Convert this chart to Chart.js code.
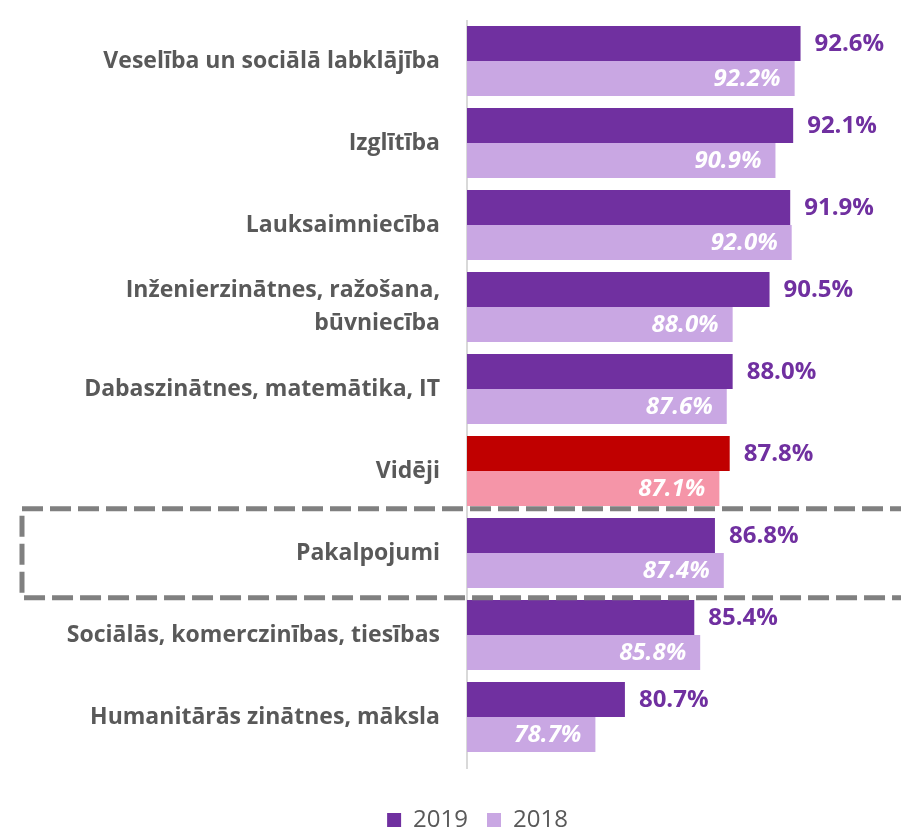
<!DOCTYPE html>
<html lang="lv">
<head>
    <meta charset="UTF-8">
    <title>Nodarbinātība pēc izglītības jomas</title>
    <script src="https://cdn.jsdelivr.net/npm/chart.js"></script>
    <style>
        html, body { margin: 0; padding: 0; background: #fff; overflow: hidden; height: 830px; }
        canvas { display: block; }
    </style>
</head>
<body>

<canvas id="jomasChart" width="901" height="842"></canvas>

<script>
    // dati
    const categories = [
        'Veselība un sociālā labklājība',
        'Izglītība',
        'Lauksaimniecība',
        ['Inženierzinātnes, ražošana,', 'būvniecība'],
        'Dabaszinātnes, matemātika, IT',
        'Vidēji',
        'Pakalpojumi',
        'Sociālās, komerczinības, tiesības',
        'Humanitārās zinātnes, māksla'
    ];
    const values2019 = [92.6, 92.1, 91.9, 90.5, 88.0, 87.8, 86.8, 85.4, 80.7];
    const values2018 = [92.2, 90.9, 92.0, 88.0, 87.6, 87.1, 87.4, 85.8, 78.7];
    const seriesNames = ['2019', '2018'];

    const avgIndex = categories.indexOf('Vidēji');
    const boxIndex = categories.indexOf('Pakalpojumi');

    const FONT = '"Open Sans", Lato, sans-serif';

    // vērtību uzraksti (bez datalabels spraudņa)
    const valueLabels = {
        id: 'valueLabels',
        afterDatasetsDraw(chart) {
            const c = chart.ctx;
            c.save();
            c.textBaseline = 'middle';
            chart.data.datasets.forEach((ds, di) => {
                const meta = chart.getDatasetMeta(di);
                meta.data.forEach((bar, i) => {
                    const txt = ds.data[i].toFixed(1) + '%';
                    if (di === 0) {
                        c.font = 'bold 24px ' + FONT;
                        c.fillStyle = '#7030A0';
                        c.textAlign = 'left';
                        c.fillText(txt, bar.x + 14, bar.y + 1);
                    } else {
                        c.font = 'italic bold 24px ' + FONT;
                        c.fillStyle = '#FFFFFF';
                        c.textAlign = 'right';
                        c.fillText(txt, bar.x - 14, bar.y + 1);
                    }
                });
            });
            c.restore();
        }
    };

    // ass un pārtrauktais rāmis ap "Pakalpojumi"
    const extras = {
        id: 'extras',
        beforeDatasetsDraw(chart) {
            const c = chart.ctx;
            const a = chart.chartArea;
            c.save();
            c.strokeStyle = '#D9D9D9';
            c.lineWidth = 2;
            c.beginPath();
            c.moveTo(a.left, a.top);
            c.lineTo(a.left, a.bottom + 11);
            c.stroke();
            c.restore();
        },
        afterDatasetsDraw(chart) {
            const c = chart.ctx;
            const y = chart.scales.y;
            const band = y.getPixelForValue(1) - y.getPixelForValue(0);
            const mid = y.getPixelForValue(boxIndex);
            c.save();
            c.strokeStyle = '#808080';
            c.lineWidth = 5;
            c.setLineDash([21, 7]);
            c.beginPath();
            c.moveTo(chart.width + 10, mid - band * 0.54);
            c.lineTo(22, mid - band * 0.54);
            c.lineTo(22, mid + band * 0.545);
            c.lineTo(chart.width + 10, mid + band * 0.545);
            c.stroke();
            c.restore();
        }
    };

    new Chart(document.getElementById('jomasChart'), {
        type: 'bar',
        data: {
            labels: categories,
            datasets: [{
                label: seriesNames[0],
                data: values2019,
                backgroundColor: (ctx) => ctx.dataIndex === avgIndex ? '#C00000' : '#7030A0'
            }, {
                label: seriesNames[1],
                data: values2018,
                backgroundColor: (ctx) => ctx.dataIndex === avgIndex ? '#F595A8' : '#C9A7E3'
            }]
        },
        options: {
            indexAxis: 'y',
            responsive: false,
            animation: false,
            barPercentage: 1,
            categoryPercentage: 0.855,
            layout: { padding: { left: 60, right: 6, top: 20, bottom: 0 } },
            scales: {
                x: {
                    min: 70,
                    max: 99,
                    ticks: { display: false },
                    grid: { display: false },
                    border: { display: false },
                    afterFit: (s) => { s.height = 31; s.paddingLeft = 0; s.paddingRight = 0; }
                },
                y: {
                    grid: { display: false, drawTicks: false },
                    border: { display: false },
                    ticks: {
                        autoSkip: false,
                        padding: 27,
                        color: '#595959',
                        font: { family: FONT, size: 23, weight: 'bold', lineHeight: 1.4 }
                    },
                    afterFit: (s) => { s.width = 407; s.paddingTop = 0; s.paddingBottom = 0; }
                }
            },
            plugins: {
                legend: {
                    position: 'bottom',
                    labels: {
                        boxWidth: 14,
                        boxHeight: 14,
                        padding: 19,
                        color: '#595959',
                        font: { family: FONT, size: 24 }
                    }
                },
                tooltip: { enabled: false }
            }
        },
        plugins: [extras, valueLabels]
    });
</script>

</body>
</html>
